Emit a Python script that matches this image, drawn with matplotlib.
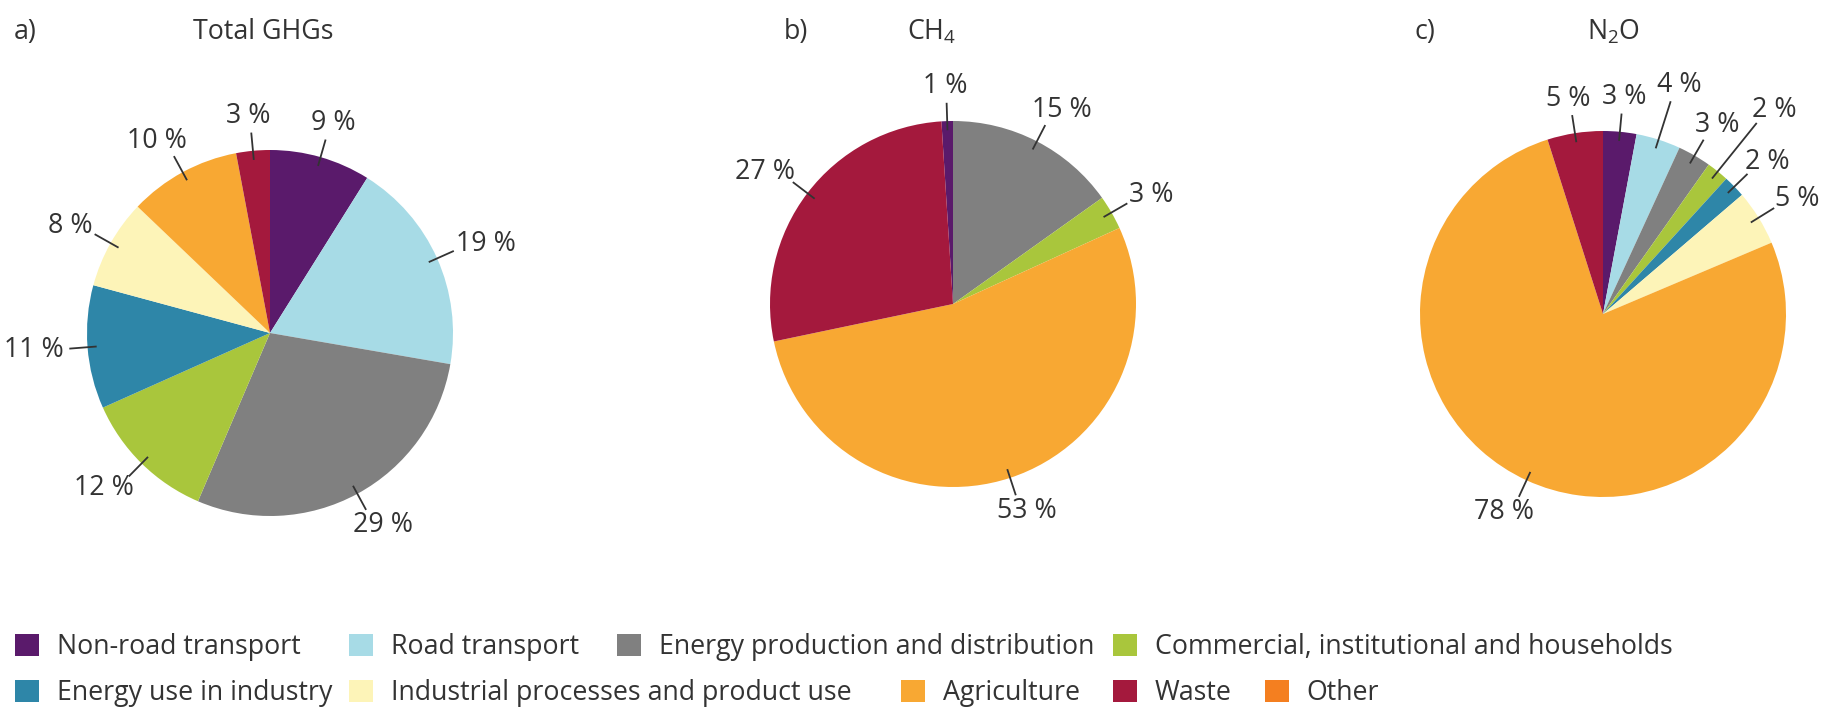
import matplotlib
matplotlib.use("Agg")
import matplotlib.pyplot as plt
import matplotlib.patches as mpatches
import numpy as np

plt.rcParams['font.family'] = ['Open Sans', 'DejaVu Sans']
plt.rcParams['mathtext.fontset'] = 'custom'
plt.rcParams['mathtext.rm'] = 'Open Sans'
plt.rcParams['mathtext.default'] = 'regular'

# ---------------- data ----------------
categories = ["Non-road transport", "Road transport", "Energy production and distribution",
              "Commercial, institutional and households", "Energy use in industry",
              "Industrial processes and product use", "Agriculture", "Waste", "Other"]
colors = ["#5a1a6b", "#a7dbe6", "#808080", "#a9c63c", "#2e86a8",
          "#fdf4b8", "#f8a833", "#a4193d", "#f47f20"]

total_ghg = [9, 19, 29, 12, 11, 8, 10, 3, 0]
ch4 = [1, 0, 15, 3, 0, 0, 53, 27, 0]
n2o = [3, 4, 3, 2, 2, 5, 78, 5, 0]

panel_letters = ["a)", "b)", "c)"]
panel_titles = ["Total GHGs", "CH$_4$", "N$_2$O"]

# ---------------- layout ----------------
W, H = 1831, 707
fig = plt.figure(figsize=(W / 100, H / 100), dpi=100)
R = 183.0
LIM = 1.5
FS = 19.3
TXT = "#333333"


def make_ax(cx, cy):
    s = 2 * R * LIM
    ax = fig.add_axes([(cx - s / 2) / W, (H - cy - s / 2) / H, s / W, s / H])
    return ax


def overlap(a, b, pad=0.05):
    return not (a[2] + pad < b[0] or b[2] + pad < a[0] or a[3] + pad < b[1] or b[3] + pad < a[1])


def draw_pie(ax, vals, start_first_left=False):
    idx = [i for i, v in enumerate(vals) if v > 0]
    v_nz = [vals[i] for i in idx]
    c_nz = [colors[i] for i in idx]
    tot = sum(v_nz)
    sa = 90
    if start_first_left:
        sa = 90 + v_nz[0] / tot * 360
    wedges, _ = ax.pie(v_nz, colors=c_nz, startangle=sa, counterclock=False,
                       radius=1, wedgeprops=dict(linewidth=0))
    ax.set_xlim(-LIM, LIM)
    ax.set_ylim(-LIM, LIM)
    ax.set_aspect('equal')
    ax.axis('off')
    renderer = fig.canvas.get_renderer()
    placed = []
    for wdg, v in zip(wedges, v_nz):
        th = np.deg2rad((wdg.theta1 + wdg.theta2) / 2)
        c, s = np.cos(th), np.sin(th)
        t = ax.text(0, 0, f"{v} %", ha='center', va='center', fontsize=FS, color=TXT)
        bb = t.get_window_extent(renderer)
        w = bb.width / R
        h = bb.height / R * 0.8
        ext = 1.10
        for _ in range(40):
            px = ext * c + c * (w / 2 + 0.03)
            py = ext * s + s * (h / 2 + 0.03)
            box = (px - w / 2, py - h / 2, px + w / 2, py + h / 2)
            if not any(overlap(box, b) for b in placed):
                break
            ext += 0.03
        t.set_position((px, py))
        placed.append(box)
        ax.plot([0.95 * c, ext * c], [0.95 * s, ext * s], color="#333333", lw=1.3,
                solid_capstyle='butt')
    return wedges


centers = [(270, 333), (953, 304), (1603, 314)]
datasets = [total_ghg, ch4, n2o]
for k, ((cx, cy), vals) in enumerate(zip(centers, datasets)):
    ax = make_ax(cx, cy)
    draw_pie(ax, vals, start_first_left=(k == 1))

# titles
letter_x = [14, 784, 1415]
title_x = [263, 932, 1613]
for lx, tx, let, tt in zip(letter_x, title_x, panel_letters, panel_titles):
    fig.text(lx / W, 1 - 32 / H, let, ha='left', va='center', fontsize=FS, color=TXT)
    fig.text(tx / W, 1 - 32 / H, tt, ha='center', va='center', fontsize=FS, color=TXT)

# legend
legend_pos = [(15, 647), (349, 647), (617, 647), (1113, 647),
              (15, 693), (349, 693), (901, 693), (1113, 693), (1265, 693)]
for name, col, (x, y) in zip(categories, colors, legend_pos):
    h = mpatches.Patch(facecolor=col, edgecolor='none')
    fig.legend(handles=[h], labels=[name], loc='center left',
               bbox_to_anchor=(x / W, 1 - y / H), frameon=False, borderpad=0,
               borderaxespad=0, handlelength=0.9, handleheight=0.9,
               handletextpad=0.65, fontsize=FS, labelcolor=TXT)

fig.savefig("out.png", dpi=100, facecolor='white')
